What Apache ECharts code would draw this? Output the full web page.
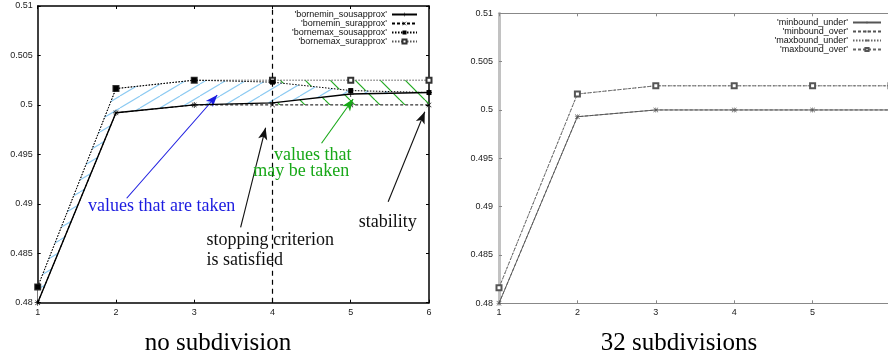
<!DOCTYPE html>
<html><head><meta charset="utf-8">
<script src="https://cdn.jsdelivr.net/npm/echarts@6/dist/echarts.min.js"></script>
<style>html,body{margin:0;padding:0;background:#fff}#c{width:888px;height:361px}</style>
</head><body><div id="c"></div>
<script>
// ---------- data ----------
const xTicks = [1, 2, 3, 4, 5, 6];
// left chart: "no subdivision"
const bornemin_sousapprox = [0.48, 0.4992, 0.5, 0.5002, 0.5011, 0.50125];
const bornemin_surapprox  = [0.48, 0.4992, 0.5, 0.5, 0.5, 0.5];
const bornemax_sousapprox = [0.4816, 0.50165, 0.5025, 0.5023, 0.50145, 0.50125];
const bornemax_surapprox  = [0.4816, 0.50165, 0.5025, 0.5025, 0.5025, 0.5025];
const leftNames = ["'bornemin_sousapprox'", "'bornemin_surapprox'", "'bornemax_sousapprox'", "'bornemax_surapprox'"];
// right chart: "32 subdivisions"
const minbound_under = [0.48, 0.4993, 0.5, 0.5, 0.5, 0.5];
const minbound_over  = [0.48, 0.4993, 0.5, 0.5, 0.5, 0.5];
const maxbound_under = [0.4816, 0.50165, 0.5025, 0.5025, 0.5025, 0.5025];
const maxbound_over  = [0.4816, 0.50165, 0.5025, 0.5025, 0.5025, 0.5025];
const rightNames = ["'minbound_under'", "'minbound_over'", "'maxbound_under'", "'maxbound_over'"];
// x from which the green "may be taken" band is drawn
const greenFrom = 4;
// annotations (data coordinates of left chart)
const annotationTexts = [
  {text: 'values that are taken', at: [1.642, 0.48978], color: '#1c1ce0'},
  {text: 'values that', at: [4.02, 0.49493], color: '#18a818'},
  {text: 'may be taken', at: [3.754, 0.49325], color: '#18a818'},
  {text: 'stopping criterion', at: [3.158, 0.48634], color: '#111'},
  {text: 'is satisfied', at: [3.158, 0.48432], color: '#111'},
  {text: 'stability', at: [5.103, 0.48809], color: '#111'}
];
const annotationArrows = [
  {from: [2.137, 0.49056], to: [3.294, 0.5010], color: '#1c1ce0'},
  {from: [4.627, 0.49612], to: [5.031, 0.5006], color: '#18a818'},
  {from: [3.593, 0.48762], to: [3.912, 0.49769], color: '#111'},
  {from: [5.478, 0.49021], to: [5.946, 0.49931], color: '#111'}
];
const stopX = 4;
const captions = ['no subdivision', '32 subdivisions'];

// ---------- helpers ----------
const pair = (arr) => xTicks.map((x, i) => [x, arr[i]]);

function hatch(w, h, color, lw, dir, bg) {
  const c = document.createElement('canvas');
  c.width = w; c.height = h;
  const ctx = c.getContext('2d');
  if (bg) { ctx.fillStyle = bg; ctx.fillRect(0, 0, w, h); }
  ctx.strokeStyle = color; ctx.lineWidth = lw;
  for (let k = -1; k <= 1; k++) {
    ctx.beginPath();
    if (dir === '/') { ctx.moveTo(k * w, h); ctx.lineTo(k * w + w, 0); }
    else { ctx.moveTo(k * w, 0); ctx.lineTo(k * w + w, h); }
    ctx.stroke();
  }
  return c;
}
const bluePat = {image: hatch(20, 12, '#8ccaf2', 1.1, '/', '#ffffff'), repeat: 'repeat'};
const greenPat = {image: hatch(25, 25, '#22aa22', 1.2, '\\', null), repeat: 'repeat'};

function bandRenderer(upper, lower, from, pattern) {
  return function (params, api) {
    const up = [], lo = [];
    xTicks.forEach((x, i) => {
      if (x >= from) { up.push(api.coord([x, upper[i]])); lo.push(api.coord([x, lower[i]])); }
    });
    return {type: 'polygon', shape: {points: up.concat(lo.reverse())},
      style: {fill: pattern, stroke: null}};
  };
}

const PLUS = 'path://M0,4.4H10V5.6H0ZM4.4,0H5.6V10H4.4Z';
const CROSS = 'path://M0.8,0L5,4.2L9.2,0L10,0.8L5.8,5L10,9.2L9.2,10L5,5.8L0.8,10L0,9.2L4.2,5L0,0.8Z';
const STAR = 'path://M0,4.5H10V5.5H0ZM4.5,0H5.5V10H4.5ZM1.2,0.5L5,4.3L8.8,0.5L9.5,1.2L5.7,5L9.5,8.8L8.8,9.5L5,5.7L1.2,9.5L0.5,8.8L4.3,5L0.5,1.2Z';

const FONT = 'Liberation Sans';
function xAx(grid, pos, labels, lineColor, lw, tickColor) {
  return {type: 'value', gridIndex: grid, position: pos, min: 1, max: 6, interval: 1,
    axisLine: {show: true, onZero: false, lineStyle: {color: lineColor, width: lw}},
    axisTick: {show: true, inside: true, length: 3, lineStyle: {color: tickColor, width: 1}},
    axisLabel: {show: labels, margin: 5, fontSize: 9, fontFamily: FONT, color: '#222'},
    splitLine: {show: false}};
}
function yAx(grid, pos, labels, lineColor, lw, tickColor, margin) {
  return {type: 'value', gridIndex: grid, position: pos, min: 0.48, max: 0.51, interval: 0.005,
    axisLine: {show: true, onZero: false, lineStyle: {color: lineColor, width: lw}},
    axisTick: {show: true, inside: true, length: 3, lineStyle: {color: tickColor, width: 1}},
    axisLabel: {show: labels, margin: margin, fontSize: 9, fontFamily: FONT, color: '#222'},
    splitLine: {show: false}};
}

const chart = echarts.init(document.getElementById('c'), null, {renderer: 'canvas'});
const option = {
  animation: false,
  backgroundColor: '#fff',
  grid: [
    {left: 37.7, top: 6, width: 391.3, height: 296.7, containLabel: false, outerBoundsMode: 'none'},
    {left: 499, top: 13.3, width: 392, height: 290, containLabel: false, outerBoundsMode: 'none'}
  ],
  xAxis: [
    xAx(0, 'bottom', true, '#000', 1.5, '#000'),
    xAx(0, 'top', false, '#000', 1.5, '#000'),
    xAx(1, 'bottom', true, '#888', 1, '#888'),
    xAx(1, 'top', false, '#888', 1, '#888')
  ],
  yAxis: [
    yAx(0, 'left', true, '#000', 1.5, '#000', 5),
    yAx(0, 'right', false, '#000', 1.5, '#000', 5),
    yAx(1, 'left', true, '#c2c2c2', 3, '#888', 6),
    yAx(1, 'right', false, '#888', 1, '#888', 5)
  ],
  legend: [
    {data: leftNames, orient: 'vertical', right: 470, top: 10, align: 'right', selectedMode: false,
     itemWidth: 25, itemHeight: 5, itemGap: 0, padding: 0,
     textStyle: {fontSize: 9, fontFamily: FONT, color: '#111', lineHeight: 9}},
    {data: rightNames, orient: 'vertical', right: 6, top: 18, align: 'right', selectedMode: false,
     itemWidth: 28, itemHeight: 4, itemGap: 0, padding: 0,
     textStyle: {fontSize: 9, fontFamily: FONT, color: '#111', lineHeight: 8.7}}
  ],
  series: [
    {type: 'custom', name: 'gband', xAxisIndex: 0, yAxisIndex: 0, z: 1, silent: true, clip: true,
      data: [[greenFrom, bornemin_surapprox[3]]],
      renderItem: bandRenderer(bornemax_surapprox, bornemin_surapprox, greenFrom, greenPat)},
    {type: 'custom', name: 'bband', xAxisIndex: 0, yAxisIndex: 0, z: 2, silent: true, clip: true,
      data: [[1, bornemin_sousapprox[0]]],
      renderItem: bandRenderer(bornemax_sousapprox, bornemin_sousapprox, 1, bluePat)},
    {type: 'line', name: leftNames[3], xAxisIndex: 0, yAxisIndex: 0, z: 3, data: pair(bornemax_surapprox),
      symbol: 'emptyRect', symbolSize: 5, itemStyle: {color: '#333', borderColor: '#333', borderWidth: 1},
      lineStyle: {color: '#555', width: 1, type: [1.5, 1.5]}},
    {type: 'line', name: leftNames[2], xAxisIndex: 0, yAxisIndex: 0, z: 4, data: pair(bornemax_sousapprox),
      symbol: 'rect', symbolSize: 5, itemStyle: {color: '#000'},
      lineStyle: {color: '#000', width: 1, type: [1.5, 1.5]}},
    {type: 'line', name: leftNames[1], xAxisIndex: 0, yAxisIndex: 0, z: 4, data: pair(bornemin_surapprox),
      symbol: CROSS, symbolSize: 5, itemStyle: {color: '#000'},
      lineStyle: {color: '#000', width: 1, type: [3, 2]}},
    {type: 'line', name: leftNames[0], xAxisIndex: 0, yAxisIndex: 0, z: 5, data: pair(bornemin_sousapprox),
      symbol: PLUS, symbolSize: 6, itemStyle: {color: '#000'},
      lineStyle: {color: '#000', width: 1.4, type: 'solid'}},
    {type: 'line', name: 'stop', xAxisIndex: 0, yAxisIndex: 0, z: 6, data: [],
      markLine: {silent: true, symbol: 'none', label: {show: false}, animation: false,
        lineStyle: {color: '#000', width: 1.2, type: [5, 4]},
        data: [{xAxis: stopX}]}},
    {type: 'line', name: 'arrows', xAxisIndex: 0, yAxisIndex: 0, z: 7, data: [],
      markLine: {silent: true, symbol: ['none', 'arrow'], symbolSize: [7, 12], label: {show: false}, animation: false,
        data: annotationArrows.map(a => [
          {coord: a.from, lineStyle: {color: a.color, width: 1.1, type: 'solid'}, itemStyle: {color: a.color}},
          {coord: a.to}
        ])}},
    // right chart
    {type: 'line', name: rightNames[0], xAxisIndex: 2, yAxisIndex: 2, z: 4, data: pair(minbound_under),
      symbol: PLUS, symbolSize: 5, itemStyle: {color: '#555'},
      lineStyle: {color: '#555', width: 0.9, type: 'solid'}},
    {type: 'line', name: rightNames[1], xAxisIndex: 2, yAxisIndex: 2, z: 4, data: pair(minbound_over),
      symbol: CROSS, symbolSize: 5, itemStyle: {color: '#555'},
      lineStyle: {color: '#555', width: 0.9, type: [3, 2]}},
    {type: 'line', name: rightNames[2], xAxisIndex: 2, yAxisIndex: 2, z: 4, data: pair(maxbound_under),
      symbol: STAR, symbolSize: 5, itemStyle: {color: '#555'},
      lineStyle: {color: '#666', width: 0.9, type: [1.5, 1.5]}},
    {type: 'line', name: rightNames[3], xAxisIndex: 2, yAxisIndex: 2, z: 4, data: pair(maxbound_over),
      symbol: 'emptyRect', symbolSize: 5, itemStyle: {color: '#555', borderColor: '#555', borderWidth: 0.9},
      lineStyle: {color: '#666', width: 0.9, type: [3, 2]}}
  ]
};
chart.setOption(option);

// annotation texts placed in data coordinates; captions under each panel
const g = annotationTexts.map(a => {
  const p = chart.convertToPixel({gridIndex: 0}, a.at);
  return {type: 'text', x: p[0], y: p[1], z: 100,
    style: {text: a.text, fill: a.color, font: '18px "Liberation Serif"', align: 'left', verticalAlign: 'middle'}};
});
g.push({type: 'text', x: 218, y: 343, z: 100,
  style: {text: captions[0], fill: '#000', font: '25px "Liberation Serif"', align: 'center', verticalAlign: 'middle'}});
g.push({type: 'text', x: 679, y: 343, z: 100,
  style: {text: captions[1], fill: '#000', font: '25px "Liberation Serif"', align: 'center', verticalAlign: 'middle'}});
chart.setOption({graphic: g});
</script>
</body></html>
